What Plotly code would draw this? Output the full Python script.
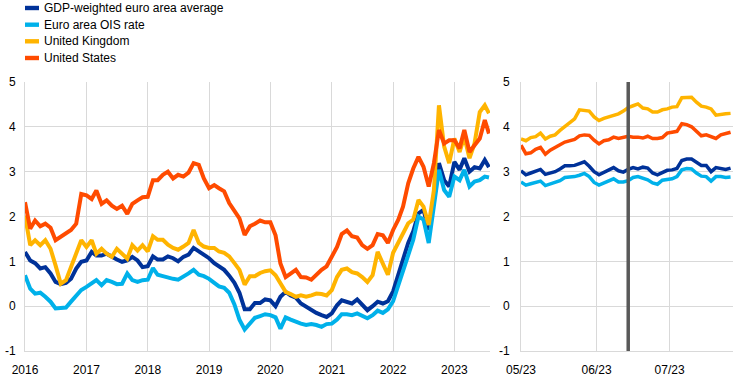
import pandas as pd
import plotly.graph_objects as go

# ---------------- data ----------------
series_names = ["GDP-weighted euro area average", "Euro area OIS rate", "United Kingdom", "United States"]
series_colors = ["#003299", "#00B1EA", "#FFB400", "#FF4B00"]

# left panel: monthly observations Jan 2016 - Jul 2023 plus last observation
long_dates = list(pd.date_range("2016-01-01", "2023-07-01", freq="MS").strftime("%Y-%m-%d")) + ["2023-07-26"]

ea_long = [1.21, 1.02, 0.96, 0.84, 0.87, 0.73, 0.54, 0.49, 0.52, 0.61, 0.84, 0.99,
           1.02, 1.21, 1.13, 1.13, 1.17, 1.10, 1.04, 0.99, 1.02, 1.10, 1.02, 0.87,
           0.89, 1.11, 1.04, 1.04, 1.11, 1.07, 1.00, 1.10, 1.15, 1.30, 1.22, 1.15,
           1.07, 0.96, 0.89, 0.81, 0.68, 0.52, 0.30, -0.07, -0.07, 0.07, 0.07, 0.15,
           0.13, 0.00, 0.21, 0.32, 0.24, 0.19, 0.06, -0.01, -0.09, -0.15, -0.20, -0.24,
           -0.16, 0.02, 0.13, 0.10, 0.06, 0.15, 0.04, -0.09, 0.00, 0.10, 0.06, 0.11,
           0.33, 0.74, 1.04, 1.41, 1.67, 2.07, 2.15, 1.70, 2.37, 3.19, 2.81, 2.67,
           3.22, 3.04, 3.30, 3.00, 3.10, 3.07, 3.26, 3.10]
ois_long = [0.69, 0.39, 0.28, 0.30, 0.21, 0.10, -0.05, -0.05, -0.03, 0.10, 0.24, 0.36,
            0.43, 0.50, 0.58, 0.47, 0.58, 0.54, 0.49, 0.50, 0.73, 0.58, 0.54, 0.58,
            0.59, 0.85, 0.70, 0.67, 0.63, 0.61, 0.59, 0.65, 0.73, 0.81, 0.70, 0.67,
            0.61, 0.52, 0.44, 0.41, 0.30, 0.04, -0.30, -0.52, -0.37, -0.26, -0.22, -0.18,
            -0.20, -0.25, -0.50, -0.25, -0.30, -0.35, -0.39, -0.42, -0.40, -0.42, -0.46, -0.40,
            -0.39, -0.30, -0.18, -0.18, -0.20, -0.16, -0.22, -0.27, -0.20, -0.10, -0.15, -0.07,
            0.11, 0.48, 0.78, 1.19, 1.48, 2.00, 1.93, 1.41, 2.19, 3.04, 2.59, 2.44,
            2.89, 2.81, 3.04, 2.67, 2.78, 2.81, 2.89, 2.87]
uk_long = [2.02, 1.36, 1.47, 1.36, 1.47, 1.28, 0.91, 0.50, 0.58, 0.87, 1.17, 1.47,
           1.32, 1.47, 1.17, 1.28, 1.17, 1.10, 1.28, 1.17, 1.06, 1.36, 1.24, 1.36,
           1.22, 1.56, 1.48, 1.48, 1.37, 1.30, 1.26, 1.33, 1.41, 1.70, 1.41, 1.33,
           1.30, 1.30, 1.22, 1.19, 1.11, 0.96, 0.81, 0.48, 0.67, 0.67, 0.74, 0.78,
           0.80, 0.69, 0.50, 0.32, 0.27, 0.21, 0.24, 0.21, 0.24, 0.28, 0.27, 0.24,
           0.36, 0.65, 0.81, 0.84, 0.76, 0.73, 0.65, 0.54, 0.69, 1.21, 0.95, 0.70,
           1.19, 1.41, 1.63, 1.85, 1.93, 2.37, 2.22, 1.81, 2.59, 4.48, 3.56, 3.19,
           3.74, 3.44, 3.78, 3.30, 3.63, 4.33, 4.48, 4.30]
us_long = [2.32, 1.73, 1.91, 1.78, 1.84, 1.75, 1.47, 1.54, 1.61, 1.70, 1.84, 2.50,
           2.47, 2.39, 2.58, 2.28, 2.36, 2.24, 2.17, 2.24, 2.06, 2.28, 2.36, 2.43,
           2.44, 2.81, 2.81, 2.93, 3.00, 2.85, 2.93, 2.89, 2.98, 3.19, 3.15, 2.85,
           2.63, 2.70, 2.63, 2.56, 2.30, 2.11, 1.96, 1.59, 1.78, 1.84, 1.91, 1.87,
           1.87, 1.58, 0.95, 0.65, 0.73, 0.81, 0.65, 0.64, 0.59, 0.71, 0.81, 0.89,
           1.10, 1.32, 1.61, 1.69, 1.56, 1.53, 1.36, 1.28, 1.36, 1.61, 1.58, 1.41,
           1.70, 1.93, 2.22, 2.74, 3.07, 3.33, 3.11, 2.67, 3.19, 3.93, 3.63, 3.70,
           3.70, 3.52, 3.93, 3.44, 3.59, 3.74, 4.15, 3.85]

# right panel: May - July 2023, every second day
short_dates = list(pd.date_range("2023-05-01", "2023-07-26", freq="2D").strftime("%Y-%m-%d"))
ea_short = [3.02, 2.93, 2.97, 3.01, 3.05, 2.94, 2.97, 3.00, 3.06, 3.13, 3.13, 3.14, 3.18, 3.22, 3.12,
            3.00, 2.93, 2.98, 3.03, 3.09, 3.02, 2.99, 3.05, 3.09, 3.06, 3.10, 3.08, 2.97, 2.93, 2.97,
            3.03, 3.04, 3.07, 3.25, 3.28, 3.28, 3.20, 3.14, 3.14, 3.00, 3.09, 3.06, 3.05, 3.08]
ois_short = [2.77, 2.70, 2.73, 2.76, 2.79, 2.69, 2.72, 2.75, 2.80, 2.87, 2.88, 2.89, 2.92, 2.96, 2.89,
             2.76, 2.70, 2.75, 2.78, 2.84, 2.77, 2.77, 2.80, 2.87, 2.89, 2.85, 2.82, 2.75, 2.72, 2.81,
             2.83, 2.84, 2.89, 3.04, 3.07, 3.06, 2.97, 2.90, 2.89, 2.79, 2.89, 2.89, 2.87, 2.88]
uk_short = [3.73, 3.69, 3.76, 3.78, 3.86, 3.73, 3.79, 3.82, 3.92, 4.00, 4.08, 4.18, 4.38, 4.37, 4.35,
            4.22, 4.14, 4.19, 4.22, 4.25, 4.29, 4.35, 4.43, 4.47, 4.51, 4.42, 4.40, 4.33, 4.33, 4.38,
            4.40, 4.44, 4.45, 4.65, 4.66, 4.66, 4.55, 4.46, 4.44, 4.40, 4.26, 4.28, 4.29, 4.30]
us_short = [3.59, 3.40, 3.42, 3.50, 3.54, 3.39, 3.48, 3.53, 3.60, 3.66, 3.70, 3.72, 3.80, 3.82, 3.81,
            3.70, 3.62, 3.69, 3.71, 3.77, 3.74, 3.77, 3.79, 3.77, 3.77, 3.75, 3.79, 3.74, 3.74, 3.76,
            3.86, 3.88, 3.90, 4.07, 4.05, 4.00, 3.90, 3.80, 3.82, 3.79, 3.74, 3.82, 3.86, 3.88]

event_date = "2023-06-14"
y_ticks = [-1, 0, 1, 2, 3, 4, 5]
y_tick_labels = ["-1", "0", "1", "2", "3", "4", "5"]

# ---------------- figure ----------------
W, H = 742, 377
ML, MR, MT, MB = 25, 9, 82, 26
FONT = "Liberation Sans, Arial, sans-serif"

fig = go.Figure()
long_vals = [ea_long, ois_long, uk_long, us_long]
short_vals = [ea_short, ois_short, uk_short, us_short]
for name, col, yl, ys in zip(series_names, series_colors, long_vals, short_vals):
    fig.add_trace(go.Scatter(x=long_dates, y=yl, mode="lines", name=name,
                             line=dict(color=col, width=4), showlegend=False,
                             xaxis="x", yaxis="y"))
    fig.add_trace(go.Scatter(x=short_dates, y=ys, mode="lines", name=name,
                             line=dict(color=col, width=3.5), showlegend=False,
                             xaxis="x2", yaxis="y2"))

grid = "#d9d9d9"
axis_common = dict(showgrid=True, gridcolor=grid, gridwidth=1, zeroline=False,
                   showline=True, linecolor=grid, linewidth=1, ticks="", automargin=False,
                   tickfont=dict(family=FONT, size=12, color="#000000"))
pw = W - ML - MR
fig.update_layout(
    width=W, height=H,
    margin=dict(l=ML, r=MR, t=MT, b=MB, autoexpand=False),
    plot_bgcolor="white", paper_bgcolor="white",
    font=dict(family=FONT, size=12, color="#000000"),
    xaxis=dict(domain=[0, (490 - ML) / pw], range=["2016-01-01", "2023-08-01"],
               type="date", tick0="2016-01-01", dtick="M12", tickformat="%Y",
               anchor="y", ticklabelstandoff=8, **axis_common),
    yaxis=dict(domain=[0, 1], range=[-1, 5], tickvals=y_ticks, ticktext=y_tick_labels,
               anchor="x", ticklabelstandoff=6, **axis_common),
    xaxis2=dict(domain=[(521 - ML) / pw, 1], range=["2023-05-01", "2023-07-27"],
                type="date", tick0="2023-05-01", dtick="M1", tickformat="%m/%y",
                anchor="y2", ticklabelstandoff=8, **axis_common),
    yaxis2=dict(domain=[0, 1], range=[-1, 5], tickvals=y_ticks, ticktext=y_tick_labels,
                anchor="x2", ticklabelstandoff=8, **axis_common),
)

# vertical event line in the right panel
fig.add_shape(type="line", xref="x2", yref="y2", x0=event_date, x1=event_date, y0=-1, y1=5,
              line=dict(color="#595959", width=3.5), layer="above")

# manual legend
ph = H - MT - MB
row_px = [8, 24.7, 41.3, 58]
for name, col, py in zip(series_names, series_colors, row_px):
    yc = (H - MB - py) / ph
    fig.add_shape(type="rect", xref="paper", yref="paper",
                  x0=0, x1=14 / pw, y0=yc - 2.2 / ph, y1=yc + 2.2 / ph,
                  fillcolor=col, line=dict(width=0))
    fig.add_annotation(xref="paper", yref="paper", x=17 / pw, y=yc, text=name,
                       showarrow=False, xanchor="left", yanchor="middle",
                       font=dict(family=FONT, size=12, color="#000000"))

fig.write_html("out.html", config={"displayModeBar": False},
               post_script="document.body.style.margin='0px';document.body.style.overflow='hidden';")
